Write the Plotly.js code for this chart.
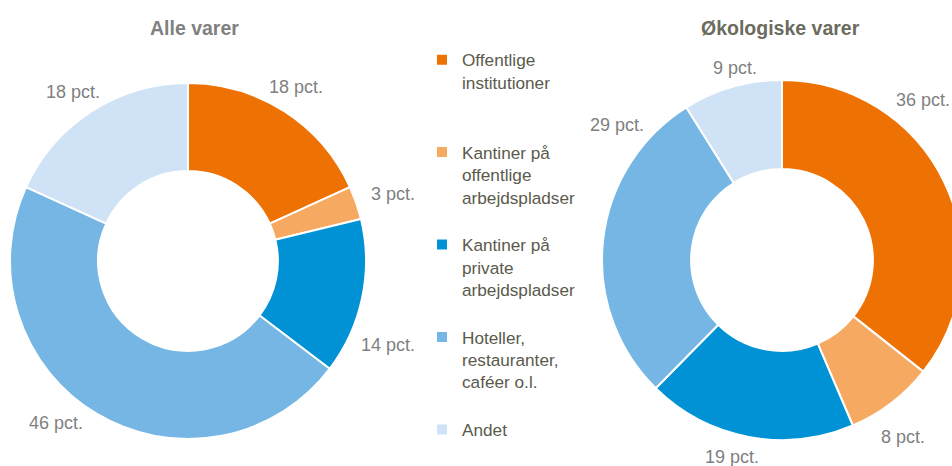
<!DOCTYPE html>
<html>
<head>
<meta charset="utf-8">
<script src="https://cdn.plot.ly/plotly-3.0.1.min.js"></script>
<style>
html,body{margin:0;padding:0;width:952px;height:466px;overflow:hidden;background:#fff;}
#chart{width:980px;height:466px;}
</style>
</head>
<body>
<div id="chart"></div>
<script>
// ---- data ----
const categories = [
  'Offentlige<br>institutioner<br> <br> ',
  'Kantiner på<br>offentlige<br>arbejdspladser<br> ',
  'Kantiner på<br>private<br>arbejdspladser<br> ',
  'Hoteller,<br>restauranter,<br>caféer o.l.<br> ',
  'Andet'
];
const alleVarer = [18, 3, 14, 46, 18];
const oekoVarer = [36, 8, 19, 29, 9];
const titles = ['Alle varer', 'Økologiske varer'];
const unit = ' pct.';

// ---- styles / positions ----
const colors = ['#ED7103', '#F6AA61', '#0092D5', '#75B6E4', '#D0E2F5'];
const W = 980, H = 466;
const font = 'Liberation Sans, Arial, sans-serif';
// value-label anchor points (pixels from top-left)
const labelPosAlle = [[296, 87], [393, 194], [388, 345], [56, 423], [73, 92]];
const labelPosOeko = [[923, 100], [903, 437], [732, 457], [617, 125], [735, 68]];

function pieTrace(values, dom){
  return {
    type: 'pie',
    labels: categories,
    values: values,
    hole: 0.505,
    sort: false,
    direction: 'clockwise',
    rotation: 0,
    domain: dom,
    marker: {colors: colors, line: {color: '#ffffff', width: 2}},
    textinfo: 'none',
    hoverinfo: 'none'
  };
}

const data = [
  pieTrace(alleVarer, {x: [10/W, 366/W], y: [27/H, 383/H]}),
  pieTrace(oekoVarer, {x: [602/W, 962/W], y: [26/H, 386/H]})
];

function valueLabels(values, pos){
  return values.map((v, i) => ({
    text: v + unit,
    x: pos[i][0] / W, y: 1 - pos[i][1] / H,
    xref: 'paper', yref: 'paper', xanchor: 'center', yanchor: 'middle',
    showarrow: false,
    font: {family: font, size: 18, color: '#7f7f7f'}
  }));
}

const annotations = [
  {text: '<b>' + titles[0] + '</b>', x: 194/W, y: 1 - 28/H, xref: 'paper', yref: 'paper',
   xanchor: 'center', yanchor: 'middle', showarrow: false,
   font: {family: font, size: 19.5, color: '#808080'}},
  {text: '<b>' + titles[1] + '</b>', x: 780/W, y: 1 - 28/H, xref: 'paper', yref: 'paper',
   xanchor: 'center', yanchor: 'middle', showarrow: false,
   font: {family: font, size: 19.5, color: '#6b6b5e'}}
].concat(valueLabels(alleVarer, labelPosAlle), valueLabels(oekoVarer, labelPosOeko));

const layout = {
  width: W, height: H,
  margin: {l: 0, r: 0, t: 0, b: 0},
  paper_bgcolor: '#ffffff',
  showlegend: true,
  legend: {
    x: 422/W, y: 1 - 42/H, xanchor: 'left', yanchor: 'top',
    valign: 'top',
    font: {family: font, size: 17.2, color: '#5a5a4c'},
    bgcolor: 'rgba(0,0,0,0)'
  },
  annotations: annotations
};

Plotly.newPlot('chart', data, layout, {displayModeBar: false, staticPlot: true});
</script>
</body>
</html>
